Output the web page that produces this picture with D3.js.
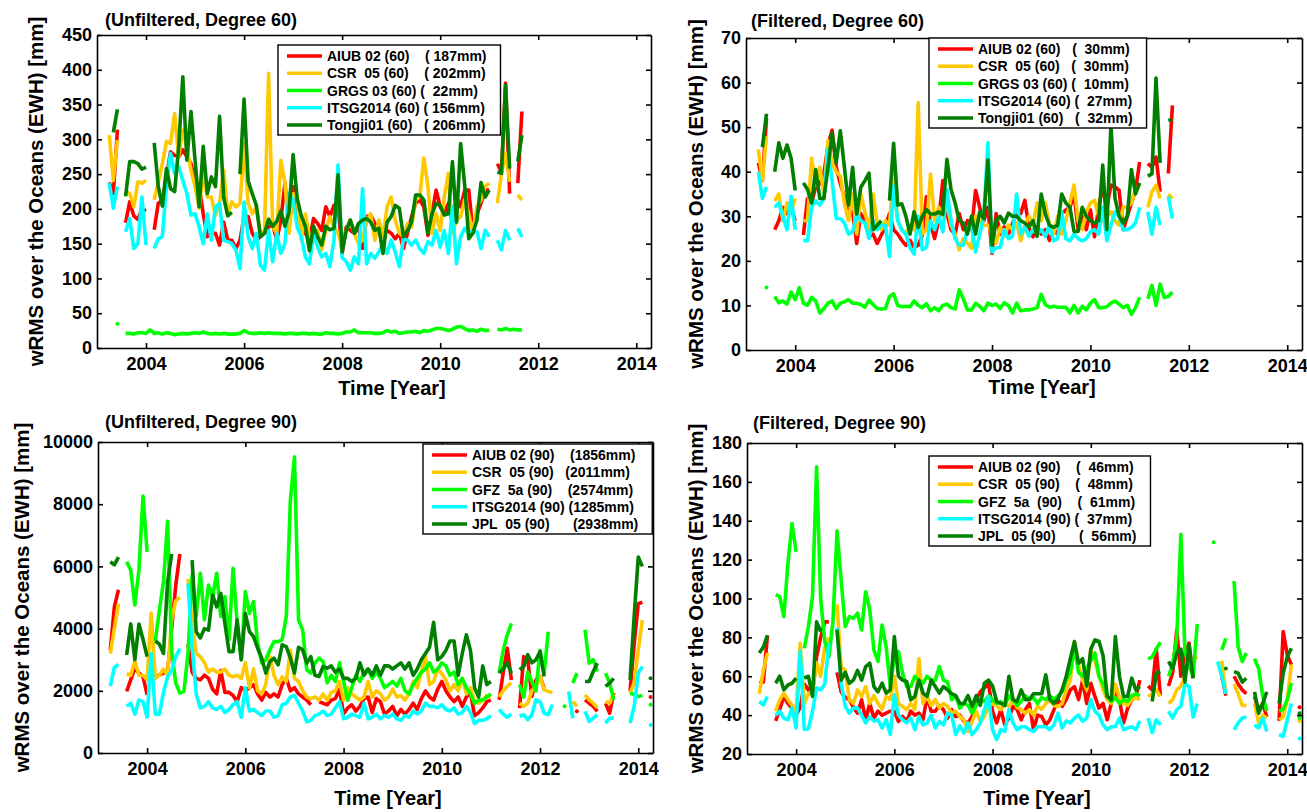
<!DOCTYPE html>
<html>
<head>
<meta charset="utf-8">
<script src="https://cdn.jsdelivr.net/npm/d3@7"></script>
<style>
  html, body { margin: 0; padding: 0; background: #fff; }
  svg { display: block; font-family: "Liberation Sans", Arial, Helvetica, sans-serif; font-weight: bold; }
</style>
</head>
<body>
<svg id="chart" width="1307" height="812"></svg>
<script>
// Monthly wRMS over the oceans (EWH, mm). Every series starts in January 2003;
// "_" marks a month without a solution.
const _ = null;
const firstYear = 2003;
const xTickYears = [2004, 2006, 2008, 2010, 2012, 2014];
const seriesColors = ["#ff0000", "#ffc800", "#00ff00", "#00ffff", "#007f00"];

// ---------- Unfiltered, degree 60 ----------
const unf60Aiub = [
  _,_,238,222,314,_,180,210,190,185,200,197,
  _,170,208,212,246,282,277,275,285,275,265,241,
  232,193,160,165,165,148,181,155,155,143,155,189,
  189,165,155,160,165,174,177,155,184,237,174,232,
  189,169,165,155,186,179,169,203,189,205,205,136,
  174,169,165,174,143,189,191,179,165,165,169,165,
  157,165,143,165,189,208,213,203,162,193,227,203,
  193,208,179,217,203,227,227,167,193,208,227,227,
  _,265,253,381,222,_,237,340];
const unf60Csr = [
  _,_,306,241,299,_,225,222,203,239,237,241,
  _,213,239,265,297,294,337,275,313,289,256,232,
  201,251,217,217,191,208,256,193,210,203,208,294,
  208,193,203,165,169,395,174,165,270,237,165,222,
  215,155,193,160,165,169,141,169,189,174,165,145,
  169,184,165,150,155,184,193,155,184,160,203,217,
  184,165,160,179,174,213,217,273,232,165,193,169,
  217,251,165,184,189,213,193,165,203,213,232,237,
  _,208,251,280,239,_,220,213];
const unf60Grgs = [
  _,_,_,_,35,_,21,21,20,22,22,21,
  26,21,22,20,22,21,19,20,21,20,21,22,
  21,23,21,20,21,20,21,20,20,20,21,25,
  22,21,21,22,21,22,21,21,21,20,21,21,
  20,21,21,20,21,20,20,22,21,21,20,21,
  23,23,26,22,22,22,22,21,21,22,25,23,
  24,21,22,23,23,24,22,25,24,26,28,28,
  27,25,27,30,31,28,25,26,24,27,25,26,
  _,27,26,28,26,27,26,26];
const unf60Itsg = [
  _,_,237,201,232,_,167,186,143,150,217,148,
  _,143,157,160,234,280,251,261,241,222,191,193,
  174,150,193,155,203,208,155,153,150,141,114,210,
  160,143,165,119,112,169,124,165,136,150,222,213,
  174,160,131,121,165,145,131,136,117,155,263,130,
  124,112,131,121,229,121,136,129,138,150,136,155,
  138,117,157,155,148,155,143,136,153,148,169,145,
  169,136,203,121,160,172,165,169,167,143,169,160,
  _,155,141,169,155,_,172,160];
const unf60Tongji = [
  _,_,_,310,343,_,218,268,268,265,257,260,
  _,295,232,204,258,229,225,289,390,270,340,270,
  203,290,222,246,232,333,217,190,195,_,250,358,
  240,222,205,160,165,185,175,182,197,175,195,278,
  215,190,175,140,175,160,148,175,170,172,249,138,
  169,184,165,179,184,186,181,169,172,136,181,189,
  205,201,160,169,181,220,220,213,165,193,208,205,
  191,193,268,181,294,234,157,165,184,238,217,227,
  _,253,251,378,258,_,268,306];
const unf60Labels = ["AIUB 02 (60)    ( 187mm)", "CSR  05 (60)    ( 202mm)",
  "GRGS 03 (60) (  22mm)", "ITSG2014 (60) ( 156mm)", "Tongji01 (60)   ( 206mm)"];

// ---------- Filtered, degree 60 ----------
const fil60Aiub = [
  _,_,42,38,52,_,27,29,32,30.6,32,29,
  _,25.8,34,33,36.6,37.3,39.6,46,49.3,41,37.3,34.4,
  30.6,31,23.9,30.6,29,25.4,26,23.9,25.8,27.6,30.6,27,
  26,24.6,23.5,24.6,23,23.5,25.8,34.4,28.4,25,29,38,
  30.6,27,26,30.6,27,29,27,35.8,32,29,32,21.7,
  30.6,26,27.6,26,28.4,30.6,30.6,33.6,27.6,25.4,27.6,26,
  27,24.6,27,26,30.6,31.4,32,35,27,30,27,31.4,
  25.4,32,36.6,32,37,36.6,35.8,27,30,33,35.8,42.2,
  _,41.8,41,43.3,35.5,_,39.6,54.9];
const fil60Csr = [
  _,_,45,38,48,_,33.5,35,29,33,31,34,
  _,29,29,43,37,41,35,47,42,40,39,33,
  29,35,26,35,31,27,35,28.5,27,29,28,40,
  29,27,26,28,27,55.5,26,27,39.5,29,32,30,
  33,28,26,22.5,25,24,22.8,30,29,28,28,26,
  24,27.5,25.5,28,27,28.5,24.5,28,30,28,33,29,
  33,28,26,30,26,29,33,37,29,27,31,33,
  33.6,30,29,30,31,29,28,32,32,33,36,37,
  _,32,35.5,37,34,_,35,34];
const fil60Grgs = [
  _,_,_,_,14,_,12,10.6,11,10.3,13,11.3,
  14,10.5,10,11.8,11,8.3,9.3,10.5,11,9.3,10.5,10.8,
  11.3,10.5,10.5,10.2,9.6,11.2,10.2,9.3,9.2,9.3,12,12.6,
  10,9.7,9.8,9.7,11,10,9.5,10.4,8.8,9.5,8.8,10,
  10.3,9.5,9.2,13.5,11.5,9,9,10.5,9.8,8.8,10.5,10,
  10.3,9.3,10.6,10,8.3,10.5,8.8,9,9,9.2,9.5,12.5,
  10.2,9.6,9.8,9.6,9.6,9.6,8.3,10,8.3,9.8,9,10.5,
  11.3,9.5,9.5,9.7,10.5,11,10.3,9.5,10,8,9.5,11.8,
  _,11.5,14.5,10,14.8,11.8,12,13];
const fil60Itsg = [
  _,_,40,34,36.6,_,32,33,30,27,34.5,27,
  _,24.5,24.5,32,33.5,32.5,34,45,38,29.5,29.5,28.5,
  26,26.5,30.5,29,28.5,25,29,27,28,28,21,37,
  29,27,26,23,21.5,30,22.5,23,29,27,30,26.5,
  36,29,25,23.5,23.5,27,28,22,26,30,46.5,22,
  23,23,27,25,25.5,35,26,27.5,25.5,27,26,27,
  25.5,28,24.5,25,31,25,24.5,26,25,24.5,25,26.5,
  27,26,32,24.5,28,31,30,27,27,27.5,28.5,32,
  _,31,26,32,28,_,34.5,29.5];
const fil60Tongji = [
  _,_,_,45.5,53,_,40,46.5,43,46,43,35.8,
  _,37.5,36,33,40.5,34,34,41,48.7,42,49.2,41,
  32.5,41,30.5,36.5,38,39.7,27,28,29,_,33.5,46.4,
  32.5,32.8,30,26,31,27.5,30,31.5,30.5,30.5,31,30.5,
  42.8,36,33,29,28.5,26,30,26,31,29.5,42.7,23.5,
  29,30,28.5,30.7,30,30,29,28.5,27.6,29,25.5,35,
  30.5,28,27.5,28,35,33,32,26.6,26.6,32,30,29,
  28.5,29,41.5,27,50.6,34,30,28.5,30,40.5,35,37.5,
  _,39,39.5,61,42,_,51.5,51.7];
const fil60Labels = ["AIUB 02 (60)   (  30mm)", "CSR  05 (60)   (  30mm)",
  "GRGS 03 (60) (  10mm)", "ITSG2014 (60) (  27mm)", "Tongji01 (60)   (  32mm)"];

// ---------- Unfiltered, degree 90 ----------
const unf90Aiub = [
  _,_,3300,4700,5250,_,1980,2350,2730,2570,2460,1870,
  _,2460,2510,2570,2600,4000,5400,6400,_,3500,2600,2400,
  2350,2500,2400,2050,1900,2650,1950,1950,1850,1650,2100,2000,
  2100,2200,1900,1700,1950,1800,1900,1800,2200,2400,2000,2100,
  1900,1800,1700,1550,_,1650,1600,1550,1700,1750,2050,1250,
  1450,1550,1350,1500,1750,1800,1300,1750,1650,1250,1350,1500,
  1200,1400,1250,1400,1600,1400,1750,2000,1800,1700,2050,2300,
  2000,1800,1650,1800,1500,1800,1950,1200,1300,1450,1650,1700,
  _,1710,2570,3370,2350,_,1440,3100,3000,1820,2350,2460,
  2090,_,_,_,_,_,_,_,1340,_,1710,1600,
  1500,1340,_,1600,1280,1930,_,_,_,2000,3500,4800,
  4850,_,1800];
const unf90Csr = [
  _,_,3200,4000,4800,_,2550,2500,2950,2500,2500,2350,
  4500,2400,2500,2700,2500,4300,4900,5000,_,5600,4200,3200,
  3100,2900,2600,2700,2600,2600,2700,2500,2450,2500,2400,2900,
  2100,2700,2000,1900,2200,3100,2500,2200,2450,2300,3300,2400,
  2300,2000,1800,1750,1800,1700,1900,1700,1950,2000,2300,1700,
  2100,1900,1800,1700,1800,2300,1800,2000,1900,1700,1800,2050,
  1800,1850,1700,1900,2300,2100,2600,3100,2200,2300,2700,2550,
  2350,2000,2200,2000,2400,1900,2100,1700,1600,1700,1850,1800,
  _,1800,2000,2150,2250,_,1600,1500,1600,2000,2140,2460,
  2030,1980,1950,_,_,_,_,1660,1500,_,1870,1710,
  1600,1450,_,1660,1600,1900,_,_,_,1930,2250,3320,
  4280,_,_];
const unf90Gfz = [
  _,_,_,_,_,_,6150,5880,4760,5880,8260,6470,
  _,3600,4600,5500,7450,3300,2250,1930,1980,3210,5720,4390,
  5780,4280,5400,5030,5780,4390,5030,3640,5940,4170,3000,5190,
  4490,4870,3530,2890,3000,3320,3580,3580,3640,4390,8130,9520,
  4280,3960,2675,2570,2890,3050,2940,2250,2500,2300,2900,2300,
  1700,2100,2500,2300,2600,2700,2400,2600,2400,2100,2200,2300,
  2150,2400,2000,1900,2200,2400,2600,2700,2900,2600,2700,2900,
  2800,2500,2600,2200,2400,2100,1900,1600,1700,1700,1800,1900,
  _,2570,3300,3800,4170,_,2200,1800,2600,2300,2000,3300,
  2560,3900,_,_,_,1500,_,2250,2570,_,3960,2890,
  3000,2620,_,2570,2250,1710,_,_,_,1930,1870,1820,
  1850,_,1550];
const unf90Itsg = [
  _,_,2150,2750,2850,_,1500,1600,1250,1700,1650,1150,
  3200,1250,1250,1950,2450,2650,3100,3350,_,5450,3400,1900,
  1450,1500,1650,1450,1400,1500,1300,1400,1550,1650,1150,2100,
  1350,1400,1300,1200,1350,1350,1150,1200,1550,1600,1800,1850,
  1600,1350,1000,1050,1200,1250,1350,1200,1250,1450,1650,1100,
  1150,1250,1200,1150,1600,1100,1150,1250,1100,1200,1150,1250,
  1100,1050,1200,1150,1350,1250,1350,1600,1500,1500,1450,1550,
  1400,1350,1450,1250,1300,1500,1300,950,1050,1050,1100,1200,
  _,1400,1250,1150,1250,_,1180,1230,1070,1230,1710,1660,
  1280,1230,1550,_,_,_,1980,1120,_,_,1340,1020,
  1120,1230,_,960,1120,1120,_,_,_,960,1500,2570,
  2780,_,900];
const unf90Jpl = [
  _,_,6150,6050,6300,_,3150,4150,3000,4150,3650,3100,
  _,3600,3500,3200,5500,6400,_,_,_,_,6200,3900,
  3700,4000,3950,5080,4700,5130,4170,3260,3260,4280,3000,4490,
  3900,3740,3370,3050,2570,2940,3050,2835,3480,3420,3050,2570,
  3400,3320,2890,3100,2500,2460,2780,2730,2800,2600,2700,2400,
  2400,2300,2400,2900,2500,2700,2500,2800,2500,2800,2800,2700,
  2800,2900,2700,2900,2500,2700,3000,3200,3400,4200,3000,3100,
  3300,3600,3600,2500,3200,3800,3300,2100,1800,2800,2200,2300,
  _,2570,2700,2900,2570,_,2680,2780,3160,2900,3000,3260,
  2460,_,_,_,_,_,_,_,_,_,2300,2300,
  2620,2890,_,2140,2250,2400,_,_,_,2350,4400,6300,
  6000,_,2400];
const unf90Labels = ["AIUB 02 (90)    (1856mm)", "CSR  05 (90)   (2011mm)",
  "GFZ  5a (90)    (2574mm)", "ITSG2014 (90) (1285mm)", "JPL  05 (90)      (2938mm)"];

// ---------- Filtered, degree 90 ----------
const fil90Aiub = [
  _,_,56.5,57,81,_,37,43,49.5,46,43.5,40,
  44,56,53,51,70,80,88,88,_,62,52,49,
  47.9,44,41,47.9,37.6,46,38.5,42,40,41,42,42,
  36.8,39.3,36.8,42,40,41,37.6,49.6,42,42,45,42.8,
  38.5,42.8,39.3,40,36.8,36,39.3,47.9,52,54,56.4,42,
  36,42.8,35,38.5,44.5,42.8,37.6,42.8,46,32.5,40,39.3,
  35,37.6,42.8,48,44.5,48,53,54.7,48,58,46,56.4,
  49.6,43.6,46,37.6,46,53,47.9,36,43.6,47.9,49.6,58,
  _,55,53,74,50,_,55,62,84,60,72,77,
  59,_,_,_,_,_,_,60,50,_,60,56,
  53,51,_,49.6,42.7,46,39,_,_,37,83,71,
  66,_,44];
const fil90Csr = [
  _,_,51,63,72,_,42,47.9,51.3,47.9,45,42,
  77,46,51,53,67,60,75,80,_,97,65,63,
  48,46,53,49.6,54.7,46,50,46,43,49.6,48,60,
  46,44.5,42.8,46,43,69,46,49.6,45,48,43.6,46,
  44.5,41,42,39.3,37.6,31.6,36.8,42,36.8,39.3,44.5,46,
  45,42.8,46,44.5,48,44,42.8,41,42.8,40,44.5,43,
  46,47.9,45,44.5,46,53,58,78,66,58,53,73.6,
  68,60,53,48,46,56,49,46,45,48,49,48,
  _,49.6,51,53,49.6,_,46,48,53,55,60,69,
  68,70,_,_,_,_,_,68,51,_,56,51,
  45,45,_,46,36,40,38.5,_,_,37.6,39,48,
  66,_,37];
const fil90Gfz = [
  _,_,_,_,_,_,102,101,90.7,118,138.6,124,
  _,74.4,85.5,101,167.7,100,78,70,88,134.8,109.5,85.5,
  90.7,89.8,92.4,83.8,103.5,94,73.6,67.6,86.4,75,55,70,
  72.7,61.6,54.7,54.7,59.9,58,56.4,60,58,58,65,58,
  57,47.9,50,43.6,46,45,41,45,48,47,50,48,
  46,47,45,50,48,45,47,50,48,49,46,49,
  48,50,48,50,52,58,62,75,62,60,64,68,
  72,60,56,50,47,49,46,48,47,50,51,50,
  _,69,70,74,77.5,_,60,66,80,133,73,65,
  60,87,_,_,_,129,_,73.6,79.5,_,109,75,
  67.6,72,_,69,64,50,42,_,_,42,43,48,
  56.5,_,38.5];
const fil90Itsg = [
  _,_,47,45.3,49.6,_,40,42,38.5,37.6,43.6,33.4,
  73,32.6,33,42,54,53,56,77,_,85,56.4,44.5,
  41,43.6,43.6,40,36,39,37,37.6,33.4,37.6,30,50.4,
  40,37.6,36,38.5,32.5,39.3,35,36,40,33.4,36.8,35,
  41,40,30,34.5,30.8,36,30,32.5,36,42.8,49.6,32.5,
  27.4,32.5,31.6,42.8,36,32.5,34,34,32.5,31.6,34,34,
  34,32.5,35,41,33.4,37,36,38.5,40,36.8,38.5,48,
  42,40,35,32.5,34,34,38.5,32.5,33.4,34,32.5,37,
  _,38.5,31,37.6,35,_,42,38.5,42.8,44.5,56,54.7,
  39,46,_,_,_,_,67.6,60,51,_,32.5,36,
  38.5,39,_,35,33.4,38.5,31.6,_,_,30,29,37.6,
  46,_,28];
const fil90Jpl = [
  _,_,72,75,81,_,56.4,60,53,55.5,56.4,59,
  _,59,60,49.6,88,83,_,_,_,84,58,62,
  56.4,58,63,58,65,66.7,54.7,52,56.4,51.3,53,80.4,
  60,58,57.3,47.9,49.6,58,51.3,49.6,58,54.7,51.3,54.7,
  53,51,50,46,46,50,44.5,50,45,56.4,58,55,
  47,46,45,60,48,47,53,48,48,51,51,51,
  60.7,48,46,48.5,53,60,69,77.8,66.7,69,55,74,
  78.7,78,70.5,49.6,47.9,80.4,60,49.6,49.6,59,53,54.7,
  _,_,47,61.6,62.4,_,67.6,64,72,74,57,76,
  59,_,_,_,_,_,_,_,64,_,62.4,61.6,
  57,59,_,52,41,46,52,_,_,46,61.6,70,
  74.4,_,41];
const fil90Labels = ["AIUB 02 (90)    (  46mm)", "CSR  05 (90)    (  48mm)",
  "GFZ  5a  (90)    (  61mm)", "ITSG2014 (90) (  37mm)", "JPL  05 (90)      (  56mm)"];

// ---------- panel layout ----------
const panels = [
  { box: [97, 651, 35, 348], yDomain: [0, 450], yTicks: d3.range(0, 451, 50),
    title: "(Unfiltered, Degree 60)", titlePos: [105, 26], yLabelX: 35, xLabelPos: [392, 395],
    legendPos: [278, 45], labels: unf60Labels,
    series: [unf60Aiub, unf60Csr, unf60Grgs, unf60Itsg, unf60Tongji] },
  { box: [746, 1302, 38, 350], yDomain: [0, 70], yTicks: d3.range(0, 71, 10),
    title: "(Filtered, Degree 60)", titlePos: [751, 27], yLabelX: 695, xLabelPos: [1042, 394],
    legendPos: [929, 38], labels: fil60Labels,
    series: [fil60Aiub, fil60Csr, fil60Grgs, fil60Itsg, fil60Tongji] },
  { box: [98, 653, 442, 753], yDomain: [0, 10000], yTicks: d3.range(0, 10001, 2000),
    title: "(Unfiltered, Degree 90)", titlePos: [105, 428], yLabelX: 21, xLabelPos: [388, 805],
    legendPos: [423, 444], labels: unf90Labels,
    series: [unf90Aiub, unf90Csr, unf90Gfz, unf90Itsg, unf90Jpl] },
  { box: [747, 1302, 443, 754], yDomain: [20, 180], yTicks: d3.range(20, 181, 20),
    title: "(Filtered, Degree 90)", titlePos: [753, 429], yLabelX: 695, xLabelPos: [1037, 805],
    legendPos: [929, 456], labels: fil90Labels,
    series: [fil90Aiub, fil90Csr, fil90Gfz, fil90Itsg, fil90Jpl] }
];

const svg = d3.select("#chart");
const monthTime = i => firstYear + (i + 1) / 12;
const yAxisLabel = "wRMS over the Oceans (EWH) [mm]";

panels.forEach((p, pi) => {
  const [left, right, top, bottom] = p.box;
  const x = d3.scaleLinear().domain([2003, 2014.3]).range([left, right]);
  const y = d3.scaleLinear().domain(p.yDomain).range([bottom, top]);
  const g = svg.append("g");

  const clipId = "clip" + pi;
  svg.append("clipPath").attr("id", clipId)
    .append("rect").attr("x", left).attr("y", top)
    .attr("width", right - left).attr("height", bottom - top);

  const plot = g.append("g").attr("clip-path", `url(#${clipId})`);
  const line = d3.line().defined(d => d.v !== null).x(d => x(d.t)).y(d => y(d.v));

  p.series.forEach((vals, si) => {
    const pts = vals.map((v, i) => ({ t: monthTime(i), v }));
    plot.append("path").datum(pts)
      .attr("fill", "none").attr("stroke", seriesColors[si])
      .attr("stroke-width", 3.6).attr("stroke-linejoin", "round")
      .attr("d", line);
    // single months with no neighbour are shown as dots
    const lone = pts.filter((d, i) => d.v !== null &&
      (i === 0 || pts[i - 1].v === null) && (i === pts.length - 1 || pts[i + 1].v === null));
    plot.selectAll(null).data(lone).enter().append("circle")
      .attr("cx", d => x(d.t)).attr("cy", d => y(d.v)).attr("r", 2)
      .attr("fill", seriesColors[si]);
  });

  // axes on all four sides, ticks pointing inward
  const fontFam = '"Liberation Sans", Arial, Helvetica, sans-serif';
  const styleAxis = sel => {
    sel.attr("font-family", fontFam).attr("font-size", 18).attr("font-weight", "bold");
    sel.selectAll("path,line").attr("stroke", "#000").attr("stroke-width", 1.6);
    sel.selectAll("text").attr("fill", "#000");
  };
  g.append("g").attr("transform", `translate(0,${bottom})`)
    .call(d3.axisBottom(x).tickValues(xTickYears).tickFormat(d3.format("d"))
      .tickSizeInner(-5).tickSizeOuter(0).tickPadding(9)).call(styleAxis);
  g.append("g").attr("transform", `translate(0,${top})`)
    .call(d3.axisTop(x).tickValues(xTickYears).tickFormat("")
      .tickSizeInner(-5).tickSizeOuter(0)).call(styleAxis);
  g.append("g").attr("transform", `translate(${left},0)`)
    .call(d3.axisLeft(y).tickValues(p.yTicks).tickFormat(d3.format("d"))
      .tickSizeInner(-5).tickSizeOuter(0).tickPadding(5)).call(styleAxis);
  g.append("g").attr("transform", `translate(${right},0)`)
    .call(d3.axisRight(y).tickValues(p.yTicks).tickFormat("")
      .tickSizeInner(-5).tickSizeOuter(0)).call(styleAxis);

  // titles and axis labels
  g.append("text").attr("x", p.titlePos[0]).attr("y", p.titlePos[1])
    .attr("font-size", 18).text(p.title);
  g.append("text").attr("x", p.xLabelPos[0]).attr("y", p.xLabelPos[1])
    .attr("text-anchor", "middle").attr("font-size", 20).text("Time [Year]");
  g.append("text")
    .attr("transform", `translate(${p.yLabelX},${(top + bottom) / 2}) rotate(-90)`)
    .attr("text-anchor", "middle").attr("dominant-baseline", "central")
    .attr("font-size", 20.5).text(yAxisLabel);

  // legend
  const [lx, ly] = p.legendPos;
  const lg = g.append("g");
  const rowGap = 17.25;
  const box = lg.append("rect").attr("x", lx).attr("y", ly)
    .attr("height", 11 + 4 * rowGap + 10)
    .attr("fill", "#fff").attr("stroke", "#000").attr("stroke-width", 1.4);
  let maxW = 0;
  p.labels.forEach((lab, k) => {
    const cy = ly + 11 + k * rowGap;
    lg.append("line").attr("x1", lx + 9).attr("x2", lx + 44)
      .attr("y1", cy).attr("y2", cy)
      .attr("stroke", seriesColors[k]).attr("stroke-width", 3.6);
    const t = lg.append("text").attr("x", lx + 49).attr("y", cy + 5)
      .attr("font-size", 14).attr("xml:space", "preserve")
      .style("white-space", "pre").text(lab);
    maxW = Math.max(maxW, t.node().getComputedTextLength());
  });
  box.attr("width", 49 + maxW + 14);
});
</script>
</body>
</html>
